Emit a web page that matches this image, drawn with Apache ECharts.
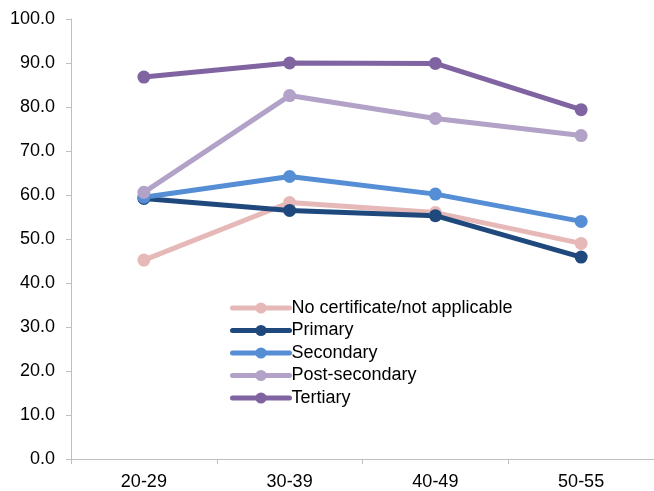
<!DOCTYPE html>
<html>
<head>
<meta charset="utf-8">
<script src="https://cdn.jsdelivr.net/npm/echarts@6/dist/echarts.min.js"></script>
<style>html,body{margin:0;padding:0;background:#fff;}#c{width:654px;height:491px;}</style>
</head>
<body>
<div id="c"></div>
<script>
var categories = ['20-29', '30-39', '40-49', '50-55'];
var seriesNames = ['No certificate/not applicable', 'Primary', 'Secondary', 'Post-secondary', 'Tertiary'];
var noCertificate = [45.2, 58.3, 56.0, 49.0];
var primary = [59.2, 56.5, 55.3, 45.9];
var secondary = [59.5, 64.2, 60.2, 54.0];
var postSecondary = [60.6, 82.6, 77.4, 73.5];
var tertiary = [86.8, 90.0, 89.9, 79.4];
var colors = ['#E6B9B8', '#1F497D', '#558ED5', '#B3A2C7', '#8064A2'];
var allValues = [noCertificate, primary, secondary, postSecondary, tertiary];

var chart = echarts.init(document.getElementById('c'));
var font = 'Arial, "Liberation Sans", sans-serif';
chart.setOption({
  animation: false,
  backgroundColor: '#ffffff',
  color: colors,
  grid: { left: 71, right: 0, top: 19, bottom: 31, containLabel: false },
  legend: {
    orient: 'vertical',
    left: 230,
    top: 299,
    padding: 0,
    itemWidth: 57,
    itemHeight: 14,
    itemGap: 4.5,
    data: seriesNames,
    lineStyle: { width: 5, cap: 'round' },
    textStyle: { fontFamily: font, fontSize: 18, color: '#000', padding: [0, 0, 0, -3] }
  },
  xAxis: {
    type: 'category',
    data: categories,
    boundaryGap: true,
    axisLine: { lineStyle: { color: '#BFBFBF', width: 1 } },
    axisTick: { show: true, length: 5, lineStyle: { color: '#BFBFBF' } },
    axisLabel: { fontFamily: font, fontSize: 18, color: '#000', margin: 14 },
    splitLine: { show: false }
  },
  yAxis: {
    type: 'value',
    min: 0, max: 100, interval: 10,
    axisLine: { show: true, lineStyle: { color: '#BFBFBF', width: 1 } },
    axisTick: { show: true, length: 5, lineStyle: { color: '#BFBFBF' } },
    axisLabel: { fontFamily: font, fontSize: 18, color: '#000', margin: 16,
      formatter: function (v) { return v.toFixed(1); } },
    splitLine: { show: false }
  },
  series: seriesNames.map(function (n, i) {
    return {
      name: n,
      type: 'line',
      data: allValues[i],
      symbol: 'circle',
      symbolSize: 13,
      lineStyle: { width: 5, color: colors[i] },
      itemStyle: { color: colors[i] }
    };
  })
});
</script>
</body>
</html>
